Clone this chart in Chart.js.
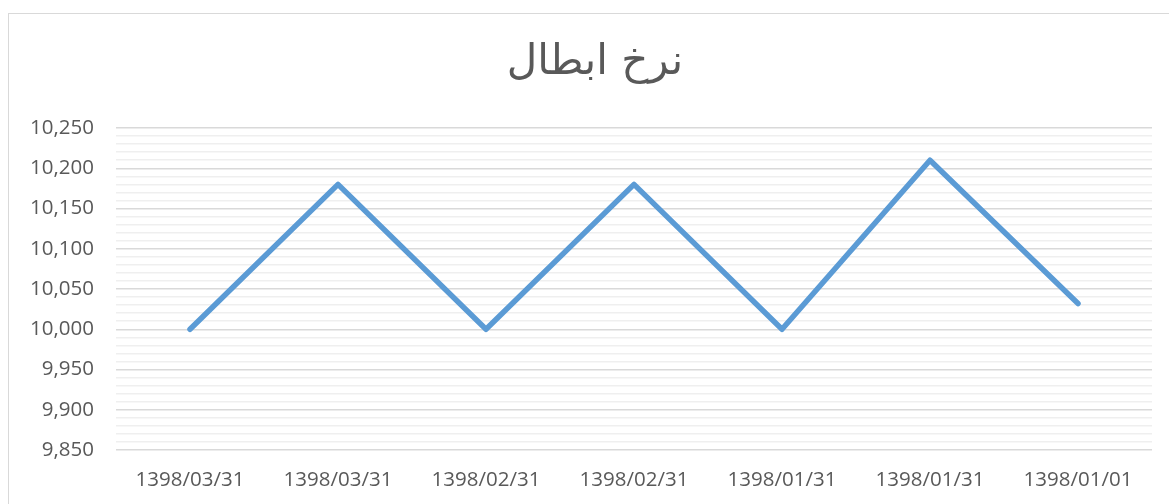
<!DOCTYPE html>
<html>
<head>
<meta charset="utf-8">
<script src="https://cdn.jsdelivr.net/npm/chart.js@4"></script>
<style>
html,body{margin:0;padding:0;background:#fff;}
#wrap{position:relative;width:1169px;height:504px;overflow:hidden;}
#frame{position:absolute;left:8px;top:13px;width:1180px;height:520px;border:1px solid #d9d9d9;box-sizing:border-box;}
canvas{position:absolute;left:0;top:0;}
</style>
</head>
<body>
<div id="wrap">
<div id="frame"></div>
<canvas id="c" width="1169" height="504"></canvas>
</div>
<script>
const categories = ["1398/03/31","1398/03/31","1398/02/31","1398/02/31","1398/01/31","1398/01/31","1398/01/01"];
const values = [10000, 10180, 10000, 10180, 10000, 10210, 10032];
const chartTitle = "نرخ ابطال";
const yMin = 9850, yMax = 10250, yMajorStep = 50, yMinorStep = 10;

const tickFont = {family: "'Open Sans', 'Liberation Sans', sans-serif", size: 20.5};

const titleDraw = {
  id: 'titleDraw',
  afterDraw(chart) {
    const ctx = chart.ctx;
    ctx.save();
    ctx.fillStyle = '#595959';
    ctx.font = "42px 'DejaVu Sans', sans-serif";
    ctx.textAlign = 'center';
    ctx.textBaseline = 'middle';
    ctx.direction = 'rtl';
    ctx.fillText(chartTitle, 595, 63);
    ctx.restore();
  }
};

new Chart(document.getElementById('c'), {
  type: 'line',
  data: {
    labels: categories,
    datasets: [{
      data: values,
      borderColor: '#5B9BD5',
      borderWidth: 5.5,
      pointRadius: 0,
      pointHoverRadius: 0,
      tension: 0,
      fill: false,
      borderCapStyle: 'round',
      borderJoinStyle: 'round'
    }]
  },
  plugins: [titleDraw],
  options: {
    responsive: false,
    animation: false,
    layout: {padding: {left: 0, right: 17, top: 128, bottom: 0}},
    plugins: {
      legend: {display: false},
      tooltip: {enabled: false},
      title: {display: false}
    },
    scales: {
      x: {
        offset: true,
        grid: {display: false, drawTicks: false},
        border: {display: false},
        ticks: {color: '#595959', font: tickFont, padding: 18, maxRotation: 0, autoSkip: false},
        afterFit: s => { s.height = 54; }
      },
      y: {
        min: yMin, max: yMax,
        grid: {
          drawTicks: false,
          color: ctx => (ctx.tick && Math.round(ctx.tick.value) % yMajorStep === 0) ? '#d9d9d9' : '#efefef',
          lineWidth: 1.5
        },
        border: {display: false},
        ticks: {
          stepSize: yMinorStep,
          autoSkip: false,
          color: '#595959',
          font: tickFont,
          padding: 22,
          callback: v => (Math.round(v) % yMajorStep === 0) ? Number(v).toLocaleString('en-US') : ''
        },
        afterFit: s => { s.width = 116; }
      }
    }
  }
});
</script>
</body>
</html>
